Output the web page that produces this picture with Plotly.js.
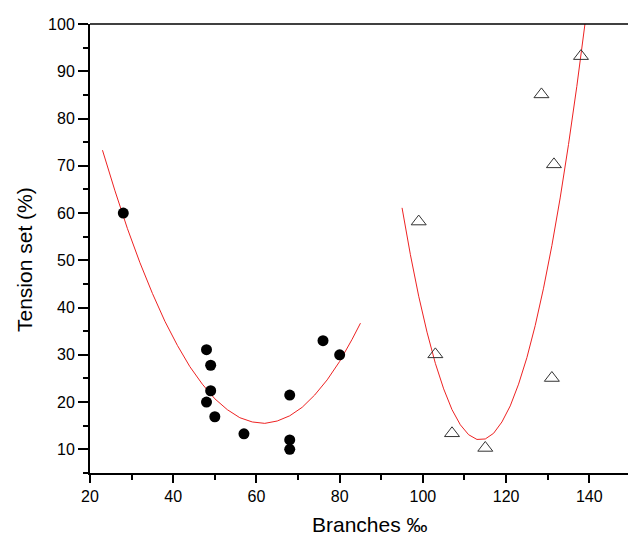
<!DOCTYPE html>
<html>
<head>
<meta charset="utf-8">
<script src="https://cdn.plot.ly/plotly-3.0.1.min.js"></script>
<style>html,body{margin:0;padding:0;background:#fff;}#chart{width:628px;height:535px;}</style>
</head>
<body>
<div id="chart"></div>
<script>
// Series 1: filled circles
const circX = [28, 48, 49, 49, 48, 50, 57, 68, 68, 68, 76, 80];
const circY = [60, 31.1, 27.8, 22.4, 20.0, 16.9, 13.3, 21.5, 12.0, 10.0, 33.0, 30.0];
// Series 2: open triangles
const triX = [99, 103, 107, 115, 131, 128.5, 131.5, 138];
const triY = [58.2, 30.1, 13.4, 10.3, 25.1, 85.1, 70.3, 93.2];
// Fit curve 1
const fit1X = [23, 26, 29, 32, 35, 38, 41, 44, 47, 50, 53, 56, 59, 62, 65, 68, 71, 74, 77, 80, 83, 85];
const fit1Y = [73.3, 64.7, 56.7, 49.5, 43.0, 37.1, 32.0, 27.5, 23.8, 20.7, 18.4, 16.7, 15.8, 15.5, 16.0, 17.1, 18.9, 21.5, 24.7, 28.6, 33.3, 36.7];
// Fit curve 2
const fit2X = [95, 97, 99, 101, 103, 105, 107, 109, 111, 113, 115, 117, 119, 121, 123, 125, 127, 129, 131, 133, 135, 137, 139, 140];
const fit2Y = [61.1, 51.2, 42.4, 34.8, 28.2, 22.8, 18.4, 15.2, 13.1, 12.1, 12.2, 13.4, 15.8, 19.2, 23.8, 29.4, 36.2, 44.1, 53.1, 63.2, 74.5, 86.8, 100.3, 107.4];
// Axis labels
const xTitle = "Branches ‰";
const yTitle = "Tension set (%)";

const font = "Liberation Sans, Arial, sans-serif";

const traces = [
  {x: fit1X, y: fit1Y, mode: 'lines', line: {color: '#ee2222', width: 1}, hoverinfo: 'skip'},
  {x: fit2X, y: fit2Y, mode: 'lines', line: {color: '#ee2222', width: 1}, hoverinfo: 'skip'},
  {x: circX, y: circY, mode: 'markers', marker: {symbol: 'circle', size: 11, color: '#000'}},
  {x: triX, y: triY, mode: 'markers', marker: {symbol: 'triangle-up-open', size: 13, color: '#333', line: {width: 1, color: '#333'}}}
];

const layout = {
  width: 628, height: 535,
  margin: {l: 90, r: 0, t: 24, b: 62},
  showlegend: false,
  paper_bgcolor: '#fff', plot_bgcolor: '#fff',
  font: {family: font, size: 16, color: '#000'},
  xaxis: {
    range: [20, 149.3], dtick: 20, tick0: 0,
    showgrid: false, zeroline: false,
    showline: true, linewidth: 2, linecolor: '#000',
    ticks: 'outside', ticklen: 8, tickwidth: 2, tickcolor: '#000',
    minor: {dtick: 10, ticks: 'outside', ticklen: 5, tickwidth: 2, tickcolor: '#000', showgrid: false},
    tickfont: {size: 16, family: font}
  },
  yaxis: {
    range: [5, 100], dtick: 10, tick0: 0,
    showgrid: false, zeroline: false,
    showline: true, linewidth: 2, linecolor: '#000',
    ticks: 'outside', ticklen: 10, tickwidth: 2, tickcolor: '#000',
    minor: {dtick: 5, ticks: 'outside', ticklen: 5, tickwidth: 2, tickcolor: '#000', showgrid: false},
    tickfont: {size: 16, family: font}
  },
  annotations: [
    {text: xTitle, xref: 'paper', yref: 'paper', x: 0.52, y: -0.1136, xanchor: 'center', yanchor: 'middle',
     showarrow: false, font: {size: 21, family: font, color: '#000'}},
    {text: yTitle, xref: 'paper', yref: 'paper', x: -0.1208, y: 0.4744, xanchor: 'center', yanchor: 'middle',
     textangle: -90, showarrow: false, font: {size: 21, family: font, color: '#000'}}
  ],
  shapes: [
    {type: 'line', xref: 'paper', yref: 'paper', x0: 0, x1: 1, y0: 1, y1: 1, line: {color: '#000', width: 1.5}}
  ]
};

Plotly.newPlot('chart', traces, layout, {displayModeBar: false, staticPlot: true});
</script>
</body>
</html>
